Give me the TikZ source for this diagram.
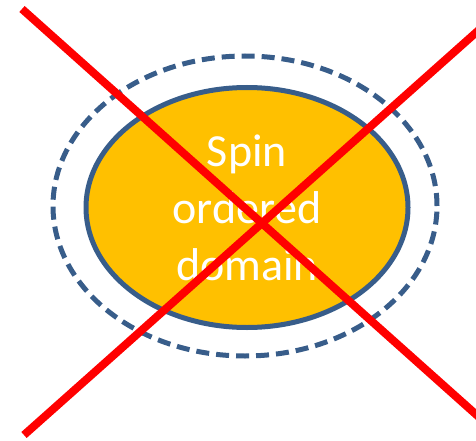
\documentclass[tikz,border=0pt]{standalone}
\usepackage{fontspec}
\setmainfont{Carlito}
\usepackage{tikz}
\usetikzlibrary{shapes.geometric}
\definecolor{edgeblue}{RGB}{56,93,138}
\definecolor{domainfill}{RGB}{255,192,0}
\definecolor{crossred}{RGB}{255,0,0}

\begin{document}
\begin{tikzpicture}[x=1pt,y=-1pt,
    halo/.style={ellipse,draw=edgeblue,line width=5pt,dash pattern=on 13pt off 7pt,minimum width=384pt,minimum height=300pt,inner sep=0pt},
    spinbox/.style={ellipse,draw=edgeblue,line width=5pt,fill=domainfill,minimum width=322pt,minimum height=240pt,inner sep=0pt,align=center,text=white,font=\fontsize{46}{57}\selectfont},
    cross/.style={draw=crossred,line width=8pt}
  ]
    \useasboundingbox (0,0) rectangle (476,441);
    \node[halo] (halo) at (245,206) {};
    \node[spinbox] (spin) at (247,207.5) {Spin\\ordered\\domain};
    % the cross over it
    \coordinate (tl) at (22,9);
    \coordinate (br) at (480,418);
    \coordinate (tr) at (480,29);
    \coordinate (bl) at (24,435);
    \draw[cross] (tl) -- (br);
    \draw[cross] (tr) -- (bl);
  \end{tikzpicture}
\end{document}
